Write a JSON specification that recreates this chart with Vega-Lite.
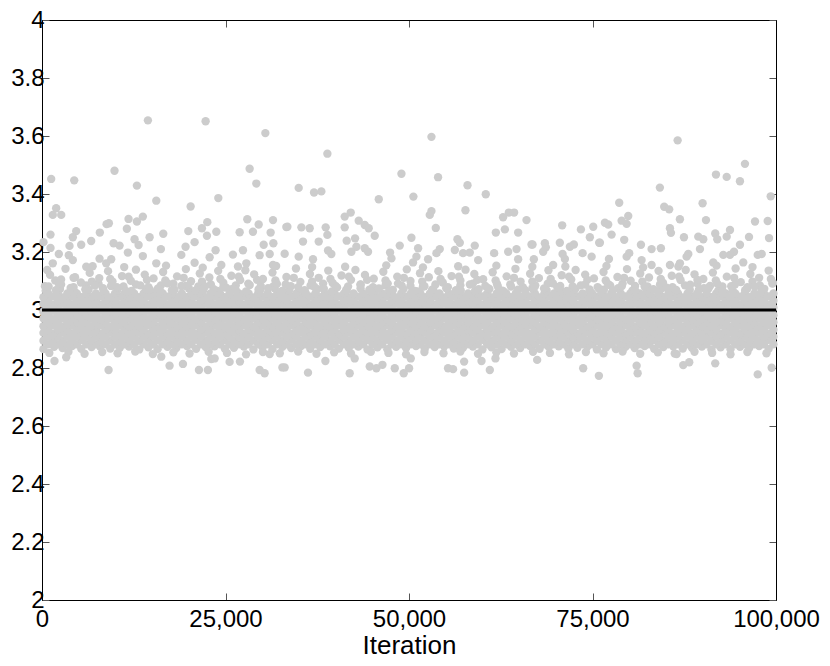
{"$schema":"https://vega.github.io/schema/vega-lite/v6.json","autosize":{"type":"none"},"padding":{"left":42,"top":20,"right":54,"bottom":66},"width":734,"height":580,"background":"white",
"config":{"view":{"stroke":"black","strokeWidth":1},"axis":{"labelFont":"Liberation Sans","titleFont":"Liberation Sans","labelFontSize":24,"titleFontSize":26,"labelColor":"black","titleColor":"black","domainColor":"black","tickColor":"#555555","grid":false,"titleFontWeight":"normal","labelFontWeight":"normal"}},
"layer":[
{"data":{"values":[
{"x":200,"y":2.865},{"x":1650,"y":2.873},{"x":2800,"y":2.869},{"x":4100,"y":2.876},{"x":5350,"y":2.866},{"x":6750,"y":2.872},{"x":7900,"y":2.875},{"x":9300,"y":2.867},{"x":10600,"y":2.87},{"x":11850,"y":2.874},{"x":13250,"y":2.864},{"x":14500,"y":2.871},{"x":15750,"y":2.865},{"x":17100,"y":2.873},{"x":18300,"y":2.869},{"x":19750,"y":2.876},{"x":21000,"y":2.866},{"x":22300,"y":2.872},{"x":23500,"y":2.875},{"x":24900,"y":2.867},{"x":26150,"y":2.87},{"x":27500,"y":2.874},{"x":28800,"y":2.864},{"x":30050,"y":2.871},{"x":31400,"y":2.865},{"x":32750,"y":2.873},{"x":33950,"y":2.869},{"x":35300,"y":2.876},{"x":36550,"y":2.866},{"x":37900,"y":2.872},{"x":39250,"y":2.875},{"x":40450,"y":2.867},{"x":41800,"y":2.87},{"x":43100,"y":2.874},{"x":44350,"y":2.864},{"x":45700,"y":2.871},{"x":47050,"y":2.865},{"x":48250,"y":2.873},{"x":49600,"y":2.869},{"x":50950,"y":2.876},{"x":52150,"y":2.866},{"x":53500,"y":2.872},{"x":54800,"y":2.875},{"x":56100,"y":2.867},{"x":57350,"y":2.87},{"x":58700,"y":2.874},{"x":60000,"y":2.864},{"x":61250,"y":2.871},{"x":62600,"y":2.865},{"x":63900,"y":2.873},{"x":65150,"y":2.869},{"x":66500,"y":2.876},{"x":67800,"y":2.866},{"x":69050,"y":2.872},{"x":70400,"y":2.875},{"x":71700,"y":2.867},{"x":72950,"y":2.87},{"x":74300,"y":2.874},{"x":75600,"y":2.864},{"x":76850,"y":2.871},{"x":78200,"y":2.865},{"x":79500,"y":2.873},{"x":80750,"y":2.869},{"x":82100,"y":2.876},{"x":83400,"y":2.866},{"x":84650,"y":2.872},{"x":86000,"y":2.875},{"x":87300,"y":2.867},{"x":88550,"y":2.87},{"x":89900,"y":2.874},{"x":91200,"y":2.864},{"x":92450,"y":2.871},{"x":93800,"y":2.865},{"x":95100,"y":2.873},{"x":96350,"y":2.869},{"x":97700,"y":2.876},{"x":99000,"y":2.866},
{"x":850,"y":2.882},{"x":2150,"y":2.882},{"x":3450,"y":2.882},{"x":4750,"y":2.882},{"x":6050,"y":2.882},{"x":7350,"y":2.882},{"x":8650,"y":2.882},{"x":9950,"y":2.882},{"x":11250,"y":2.882},{"x":12550,"y":2.882},{"x":13850,"y":2.882},{"x":15150,"y":2.882},{"x":16450,"y":2.882},{"x":17750,"y":2.882},{"x":19050,"y":2.882},{"x":20350,"y":2.882},{"x":21650,"y":2.882},{"x":22950,"y":2.882},{"x":24250,"y":2.882},{"x":25550,"y":2.882},{"x":26850,"y":2.882},{"x":28150,"y":2.882},{"x":29450,"y":2.882},{"x":30750,"y":2.882},{"x":32050,"y":2.882},{"x":33350,"y":2.882},{"x":34650,"y":2.882},{"x":35950,"y":2.882},{"x":37250,"y":2.882},{"x":38550,"y":2.882},{"x":39850,"y":2.882},{"x":41150,"y":2.882},{"x":42450,"y":2.882},{"x":43750,"y":2.882},{"x":45050,"y":2.882},{"x":46350,"y":2.882},{"x":47650,"y":2.882},{"x":48950,"y":2.882},{"x":50250,"y":2.882},{"x":51550,"y":2.882},{"x":52850,"y":2.882},{"x":54150,"y":2.882},{"x":55450,"y":2.882},{"x":56750,"y":2.882},{"x":58050,"y":2.882},{"x":59350,"y":2.882},{"x":60650,"y":2.882},{"x":61950,"y":2.882},{"x":63250,"y":2.882},{"x":64550,"y":2.882},{"x":65850,"y":2.882},{"x":67150,"y":2.882},{"x":68450,"y":2.882},{"x":69750,"y":2.882},{"x":71050,"y":2.882},{"x":72350,"y":2.882},{"x":73650,"y":2.882},{"x":74950,"y":2.882},{"x":76250,"y":2.882},{"x":77550,"y":2.882},{"x":78850,"y":2.882},{"x":80150,"y":2.882},{"x":81450,"y":2.882},{"x":82750,"y":2.882},{"x":84050,"y":2.882},{"x":85350,"y":2.882},{"x":86650,"y":2.882},{"x":87950,"y":2.882},{"x":89250,"y":2.882},{"x":90550,"y":2.882},{"x":91850,"y":2.882},{"x":93150,"y":2.882},{"x":94450,"y":2.882},{"x":95750,"y":2.882},{"x":97050,"y":2.882},{"x":98350,"y":2.882},{"x":99650,"y":2.882},
{"x":200,"y":2.894},{"x":1500,"y":2.897},{"x":2800,"y":2.895},{"x":4100,"y":2.893},{"x":5400,"y":2.896},{"x":6700,"y":2.894},{"x":8000,"y":2.897},{"x":9300,"y":2.895},{"x":10600,"y":2.893},{"x":11900,"y":2.896},{"x":13200,"y":2.894},{"x":14500,"y":2.897},{"x":15800,"y":2.895},{"x":17100,"y":2.893},{"x":18400,"y":2.896},{"x":19700,"y":2.894},{"x":21000,"y":2.897},{"x":22300,"y":2.895},{"x":23600,"y":2.893},{"x":24900,"y":2.896},{"x":26200,"y":2.894},{"x":27500,"y":2.897},{"x":28800,"y":2.895},{"x":30100,"y":2.893},{"x":31400,"y":2.896},{"x":32700,"y":2.894},{"x":34000,"y":2.897},{"x":35300,"y":2.895},{"x":36600,"y":2.893},{"x":37900,"y":2.896},{"x":39200,"y":2.894},{"x":40500,"y":2.897},{"x":41800,"y":2.895},{"x":43100,"y":2.893},{"x":44400,"y":2.896},{"x":45700,"y":2.894},{"x":47000,"y":2.897},{"x":48300,"y":2.895},{"x":49600,"y":2.893},{"x":50900,"y":2.896},{"x":52200,"y":2.894},{"x":53500,"y":2.897},{"x":54800,"y":2.895},{"x":56100,"y":2.893},{"x":57400,"y":2.896},{"x":58700,"y":2.894},{"x":60000,"y":2.897},{"x":61300,"y":2.895},{"x":62600,"y":2.893},{"x":63900,"y":2.896},{"x":65200,"y":2.894},{"x":66500,"y":2.897},{"x":67800,"y":2.895},{"x":69100,"y":2.893},{"x":70400,"y":2.896},{"x":71700,"y":2.894},{"x":73000,"y":2.897},{"x":74300,"y":2.895},{"x":75600,"y":2.893},{"x":76900,"y":2.896},{"x":78200,"y":2.894},{"x":79500,"y":2.897},{"x":80800,"y":2.895},{"x":82100,"y":2.893},{"x":83400,"y":2.896},{"x":84700,"y":2.894},{"x":86000,"y":2.897},{"x":87300,"y":2.895},{"x":88600,"y":2.893},{"x":89900,"y":2.896},{"x":91200,"y":2.894},{"x":92500,"y":2.897},{"x":93800,"y":2.895},{"x":95100,"y":2.893},{"x":96400,"y":2.896},{"x":97700,"y":2.894},{"x":99000,"y":2.897},
{"x":850,"y":2.908},{"x":2150,"y":2.908},{"x":3450,"y":2.908},{"x":4750,"y":2.908},{"x":6050,"y":2.908},{"x":7350,"y":2.908},{"x":8650,"y":2.908},{"x":9950,"y":2.908},{"x":11250,"y":2.908},{"x":12550,"y":2.908},{"x":13850,"y":2.908},{"x":15150,"y":2.908},{"x":16450,"y":2.908},{"x":17750,"y":2.908},{"x":19050,"y":2.908},{"x":20350,"y":2.908},{"x":21650,"y":2.908},{"x":22950,"y":2.908},{"x":24250,"y":2.908},{"x":25550,"y":2.908},{"x":26850,"y":2.908},{"x":28150,"y":2.908},{"x":29450,"y":2.908},{"x":30750,"y":2.908},{"x":32050,"y":2.908},{"x":33350,"y":2.908},{"x":34650,"y":2.908},{"x":35950,"y":2.908},{"x":37250,"y":2.908},{"x":38550,"y":2.908},{"x":39850,"y":2.908},{"x":41150,"y":2.908},{"x":42450,"y":2.908},{"x":43750,"y":2.908},{"x":45050,"y":2.908},{"x":46350,"y":2.908},{"x":47650,"y":2.908},{"x":48950,"y":2.908},{"x":50250,"y":2.908},{"x":51550,"y":2.908},{"x":52850,"y":2.908},{"x":54150,"y":2.908},{"x":55450,"y":2.908},{"x":56750,"y":2.908},{"x":58050,"y":2.908},{"x":59350,"y":2.908},{"x":60650,"y":2.908},{"x":61950,"y":2.908},{"x":63250,"y":2.908},{"x":64550,"y":2.908},{"x":65850,"y":2.908},{"x":67150,"y":2.908},{"x":68450,"y":2.908},{"x":69750,"y":2.908},{"x":71050,"y":2.908},{"x":72350,"y":2.908},{"x":73650,"y":2.908},{"x":74950,"y":2.908},{"x":76250,"y":2.908},{"x":77550,"y":2.908},{"x":78850,"y":2.908},{"x":80150,"y":2.908},{"x":81450,"y":2.908},{"x":82750,"y":2.908},{"x":84050,"y":2.908},{"x":85350,"y":2.908},{"x":86650,"y":2.908},{"x":87950,"y":2.908},{"x":89250,"y":2.908},{"x":90550,"y":2.908},{"x":91850,"y":2.908},{"x":93150,"y":2.908},{"x":94450,"y":2.908},{"x":95750,"y":2.908},{"x":97050,"y":2.908},{"x":98350,"y":2.908},{"x":99650,"y":2.908},
{"x":200,"y":2.921},{"x":1500,"y":2.918},{"x":2800,"y":2.922},{"x":4100,"y":2.919},{"x":5400,"y":2.921},{"x":6700,"y":2.921},{"x":8000,"y":2.918},{"x":9300,"y":2.922},{"x":10600,"y":2.919},{"x":11900,"y":2.921},{"x":13200,"y":2.921},{"x":14500,"y":2.918},{"x":15800,"y":2.922},{"x":17100,"y":2.919},{"x":18400,"y":2.921},{"x":19700,"y":2.921},{"x":21000,"y":2.918},{"x":22300,"y":2.922},{"x":23600,"y":2.919},{"x":24900,"y":2.921},{"x":26200,"y":2.921},{"x":27500,"y":2.918},{"x":28800,"y":2.922},{"x":30100,"y":2.919},{"x":31400,"y":2.921},{"x":32700,"y":2.921},{"x":34000,"y":2.918},{"x":35300,"y":2.922},{"x":36600,"y":2.919},{"x":37900,"y":2.921},{"x":39200,"y":2.921},{"x":40500,"y":2.918},{"x":41800,"y":2.922},{"x":43100,"y":2.919},{"x":44400,"y":2.921},{"x":45700,"y":2.921},{"x":47000,"y":2.918},{"x":48300,"y":2.922},{"x":49600,"y":2.919},{"x":50900,"y":2.921},{"x":52200,"y":2.921},{"x":53500,"y":2.918},{"x":54800,"y":2.922},{"x":56100,"y":2.919},{"x":57400,"y":2.921},{"x":58700,"y":2.921},{"x":60000,"y":2.918},{"x":61300,"y":2.922},{"x":62600,"y":2.919},{"x":63900,"y":2.921},{"x":65200,"y":2.921},{"x":66500,"y":2.918},{"x":67800,"y":2.922},{"x":69100,"y":2.919},{"x":70400,"y":2.921},{"x":71700,"y":2.921},{"x":73000,"y":2.918},{"x":74300,"y":2.922},{"x":75600,"y":2.919},{"x":76900,"y":2.921},{"x":78200,"y":2.921},{"x":79500,"y":2.918},{"x":80800,"y":2.922},{"x":82100,"y":2.919},{"x":83400,"y":2.921},{"x":84700,"y":2.921},{"x":86000,"y":2.918},{"x":87300,"y":2.922},{"x":88600,"y":2.919},{"x":89900,"y":2.921},{"x":91200,"y":2.921},{"x":92500,"y":2.918},{"x":93800,"y":2.922},{"x":95100,"y":2.919},{"x":96400,"y":2.921},{"x":97700,"y":2.921},{"x":99000,"y":2.918},
{"x":850,"y":2.932},{"x":2150,"y":2.932},{"x":3450,"y":2.932},{"x":4750,"y":2.932},{"x":6050,"y":2.932},{"x":7350,"y":2.932},{"x":8650,"y":2.932},{"x":9950,"y":2.932},{"x":11250,"y":2.932},{"x":12550,"y":2.932},{"x":13850,"y":2.932},{"x":15150,"y":2.932},{"x":16450,"y":2.932},{"x":17750,"y":2.932},{"x":19050,"y":2.932},{"x":20350,"y":2.932},{"x":21650,"y":2.932},{"x":22950,"y":2.932},{"x":24250,"y":2.932},{"x":25550,"y":2.932},{"x":26850,"y":2.932},{"x":28150,"y":2.932},{"x":29450,"y":2.932},{"x":30750,"y":2.932},{"x":32050,"y":2.932},{"x":33350,"y":2.932},{"x":34650,"y":2.932},{"x":35950,"y":2.932},{"x":37250,"y":2.932},{"x":38550,"y":2.932},{"x":39850,"y":2.932},{"x":41150,"y":2.932},{"x":42450,"y":2.932},{"x":43750,"y":2.932},{"x":45050,"y":2.932},{"x":46350,"y":2.932},{"x":47650,"y":2.932},{"x":48950,"y":2.932},{"x":50250,"y":2.932},{"x":51550,"y":2.932},{"x":52850,"y":2.932},{"x":54150,"y":2.932},{"x":55450,"y":2.932},{"x":56750,"y":2.932},{"x":58050,"y":2.932},{"x":59350,"y":2.932},{"x":60650,"y":2.932},{"x":61950,"y":2.932},{"x":63250,"y":2.932},{"x":64550,"y":2.932},{"x":65850,"y":2.932},{"x":67150,"y":2.932},{"x":68450,"y":2.932},{"x":69750,"y":2.932},{"x":71050,"y":2.932},{"x":72350,"y":2.932},{"x":73650,"y":2.932},{"x":74950,"y":2.932},{"x":76250,"y":2.932},{"x":77550,"y":2.932},{"x":78850,"y":2.932},{"x":80150,"y":2.932},{"x":81450,"y":2.932},{"x":82750,"y":2.932},{"x":84050,"y":2.932},{"x":85350,"y":2.932},{"x":86650,"y":2.932},{"x":87950,"y":2.932},{"x":89250,"y":2.932},{"x":90550,"y":2.932},{"x":91850,"y":2.932},{"x":93150,"y":2.932},{"x":94450,"y":2.932},{"x":95750,"y":2.932},{"x":97050,"y":2.932},{"x":98350,"y":2.932},{"x":99650,"y":2.932},
{"x":200,"y":2.944},{"x":1500,"y":2.947},{"x":2800,"y":2.943},{"x":4100,"y":2.946},{"x":5400,"y":2.944},{"x":6700,"y":2.944},{"x":8000,"y":2.947},{"x":9300,"y":2.943},{"x":10600,"y":2.946},{"x":11900,"y":2.944},{"x":13200,"y":2.944},{"x":14500,"y":2.947},{"x":15800,"y":2.943},{"x":17100,"y":2.946},{"x":18400,"y":2.944},{"x":19700,"y":2.944},{"x":21000,"y":2.947},{"x":22300,"y":2.943},{"x":23600,"y":2.946},{"x":24900,"y":2.944},{"x":26200,"y":2.944},{"x":27500,"y":2.947},{"x":28800,"y":2.943},{"x":30100,"y":2.946},{"x":31400,"y":2.944},{"x":32700,"y":2.944},{"x":34000,"y":2.947},{"x":35300,"y":2.943},{"x":36600,"y":2.946},{"x":37900,"y":2.944},{"x":39200,"y":2.944},{"x":40500,"y":2.947},{"x":41800,"y":2.943},{"x":43100,"y":2.946},{"x":44400,"y":2.944},{"x":45700,"y":2.944},{"x":47000,"y":2.947},{"x":48300,"y":2.943},{"x":49600,"y":2.946},{"x":50900,"y":2.944},{"x":52200,"y":2.944},{"x":53500,"y":2.947},{"x":54800,"y":2.943},{"x":56100,"y":2.946},{"x":57400,"y":2.944},{"x":58700,"y":2.944},{"x":60000,"y":2.947},{"x":61300,"y":2.943},{"x":62600,"y":2.946},{"x":63900,"y":2.944},{"x":65200,"y":2.944},{"x":66500,"y":2.947},{"x":67800,"y":2.943},{"x":69100,"y":2.946},{"x":70400,"y":2.944},{"x":71700,"y":2.944},{"x":73000,"y":2.947},{"x":74300,"y":2.943},{"x":75600,"y":2.946},{"x":76900,"y":2.944},{"x":78200,"y":2.944},{"x":79500,"y":2.947},{"x":80800,"y":2.943},{"x":82100,"y":2.946},{"x":83400,"y":2.944},{"x":84700,"y":2.944},{"x":86000,"y":2.947},{"x":87300,"y":2.943},{"x":88600,"y":2.946},{"x":89900,"y":2.944},{"x":91200,"y":2.944},{"x":92500,"y":2.947},{"x":93800,"y":2.943},{"x":95100,"y":2.946},{"x":96400,"y":2.944},{"x":97700,"y":2.944},{"x":99000,"y":2.947},
{"x":850,"y":2.958},{"x":2150,"y":2.958},{"x":3450,"y":2.958},{"x":4750,"y":2.958},{"x":6050,"y":2.958},{"x":7350,"y":2.958},{"x":8650,"y":2.958},{"x":9950,"y":2.958},{"x":11250,"y":2.958},{"x":12550,"y":2.958},{"x":13850,"y":2.958},{"x":15150,"y":2.958},{"x":16450,"y":2.958},{"x":17750,"y":2.958},{"x":19050,"y":2.958},{"x":20350,"y":2.958},{"x":21650,"y":2.958},{"x":22950,"y":2.958},{"x":24250,"y":2.958},{"x":25550,"y":2.958},{"x":26850,"y":2.958},{"x":28150,"y":2.958},{"x":29450,"y":2.958},{"x":30750,"y":2.958},{"x":32050,"y":2.958},{"x":33350,"y":2.958},{"x":34650,"y":2.958},{"x":35950,"y":2.958},{"x":37250,"y":2.958},{"x":38550,"y":2.958},{"x":39850,"y":2.958},{"x":41150,"y":2.958},{"x":42450,"y":2.958},{"x":43750,"y":2.958},{"x":45050,"y":2.958},{"x":46350,"y":2.958},{"x":47650,"y":2.958},{"x":48950,"y":2.958},{"x":50250,"y":2.958},{"x":51550,"y":2.958},{"x":52850,"y":2.958},{"x":54150,"y":2.958},{"x":55450,"y":2.958},{"x":56750,"y":2.958},{"x":58050,"y":2.958},{"x":59350,"y":2.958},{"x":60650,"y":2.958},{"x":61950,"y":2.958},{"x":63250,"y":2.958},{"x":64550,"y":2.958},{"x":65850,"y":2.958},{"x":67150,"y":2.958},{"x":68450,"y":2.958},{"x":69750,"y":2.958},{"x":71050,"y":2.958},{"x":72350,"y":2.958},{"x":73650,"y":2.958},{"x":74950,"y":2.958},{"x":76250,"y":2.958},{"x":77550,"y":2.958},{"x":78850,"y":2.958},{"x":80150,"y":2.958},{"x":81450,"y":2.958},{"x":82750,"y":2.958},{"x":84050,"y":2.958},{"x":85350,"y":2.958},{"x":86650,"y":2.958},{"x":87950,"y":2.958},{"x":89250,"y":2.958},{"x":90550,"y":2.958},{"x":91850,"y":2.958},{"x":93150,"y":2.958},{"x":94450,"y":2.958},{"x":95750,"y":2.958},{"x":97050,"y":2.958},{"x":98350,"y":2.958},{"x":99650,"y":2.958},
{"x":200,"y":2.971},{"x":1500,"y":2.968},{"x":2800,"y":2.972},{"x":4100,"y":2.969},{"x":5400,"y":2.971},{"x":6700,"y":2.971},{"x":8000,"y":2.968},{"x":9300,"y":2.972},{"x":10600,"y":2.969},{"x":11900,"y":2.971},{"x":13200,"y":2.971},{"x":14500,"y":2.968},{"x":15800,"y":2.972},{"x":17100,"y":2.969},{"x":18400,"y":2.971},{"x":19700,"y":2.971},{"x":21000,"y":2.968},{"x":22300,"y":2.972},{"x":23600,"y":2.969},{"x":24900,"y":2.971},{"x":26200,"y":2.971},{"x":27500,"y":2.968},{"x":28800,"y":2.972},{"x":30100,"y":2.969},{"x":31400,"y":2.971},{"x":32700,"y":2.971},{"x":34000,"y":2.968},{"x":35300,"y":2.972},{"x":36600,"y":2.969},{"x":37900,"y":2.971},{"x":39200,"y":2.971},{"x":40500,"y":2.968},{"x":41800,"y":2.972},{"x":43100,"y":2.969},{"x":44400,"y":2.971},{"x":45700,"y":2.971},{"x":47000,"y":2.968},{"x":48300,"y":2.972},{"x":49600,"y":2.969},{"x":50900,"y":2.971},{"x":52200,"y":2.971},{"x":53500,"y":2.968},{"x":54800,"y":2.972},{"x":56100,"y":2.969},{"x":57400,"y":2.971},{"x":58700,"y":2.971},{"x":60000,"y":2.968},{"x":61300,"y":2.972},{"x":62600,"y":2.969},{"x":63900,"y":2.971},{"x":65200,"y":2.971},{"x":66500,"y":2.968},{"x":67800,"y":2.972},{"x":69100,"y":2.969},{"x":70400,"y":2.971},{"x":71700,"y":2.971},{"x":73000,"y":2.968},{"x":74300,"y":2.972},{"x":75600,"y":2.969},{"x":76900,"y":2.971},{"x":78200,"y":2.971},{"x":79500,"y":2.968},{"x":80800,"y":2.972},{"x":82100,"y":2.969},{"x":83400,"y":2.971},{"x":84700,"y":2.971},{"x":86000,"y":2.968},{"x":87300,"y":2.972},{"x":88600,"y":2.969},{"x":89900,"y":2.971},{"x":91200,"y":2.971},{"x":92500,"y":2.968},{"x":93800,"y":2.972},{"x":95100,"y":2.969},{"x":96400,"y":2.971},{"x":97700,"y":2.971},{"x":99000,"y":2.968},
{"x":850,"y":2.982},{"x":2150,"y":2.982},{"x":3450,"y":2.982},{"x":4750,"y":2.982},{"x":6050,"y":2.982},{"x":7350,"y":2.982},{"x":8650,"y":2.982},{"x":9950,"y":2.982},{"x":11250,"y":2.982},{"x":12550,"y":2.982},{"x":13850,"y":2.982},{"x":15150,"y":2.982},{"x":16450,"y":2.982},{"x":17750,"y":2.982},{"x":19050,"y":2.982},{"x":20350,"y":2.982},{"x":21650,"y":2.982},{"x":22950,"y":2.982},{"x":24250,"y":2.982},{"x":25550,"y":2.982},{"x":26850,"y":2.982},{"x":28150,"y":2.982},{"x":29450,"y":2.982},{"x":30750,"y":2.982},{"x":32050,"y":2.982},{"x":33350,"y":2.982},{"x":34650,"y":2.982},{"x":35950,"y":2.982},{"x":37250,"y":2.982},{"x":38550,"y":2.982},{"x":39850,"y":2.982},{"x":41150,"y":2.982},{"x":42450,"y":2.982},{"x":43750,"y":2.982},{"x":45050,"y":2.982},{"x":46350,"y":2.982},{"x":47650,"y":2.982},{"x":48950,"y":2.982},{"x":50250,"y":2.982},{"x":51550,"y":2.982},{"x":52850,"y":2.982},{"x":54150,"y":2.982},{"x":55450,"y":2.982},{"x":56750,"y":2.982},{"x":58050,"y":2.982},{"x":59350,"y":2.982},{"x":60650,"y":2.982},{"x":61950,"y":2.982},{"x":63250,"y":2.982},{"x":64550,"y":2.982},{"x":65850,"y":2.982},{"x":67150,"y":2.982},{"x":68450,"y":2.982},{"x":69750,"y":2.982},{"x":71050,"y":2.982},{"x":72350,"y":2.982},{"x":73650,"y":2.982},{"x":74950,"y":2.982},{"x":76250,"y":2.982},{"x":77550,"y":2.982},{"x":78850,"y":2.982},{"x":80150,"y":2.982},{"x":81450,"y":2.982},{"x":82750,"y":2.982},{"x":84050,"y":2.982},{"x":85350,"y":2.982},{"x":86650,"y":2.982},{"x":87950,"y":2.982},{"x":89250,"y":2.982},{"x":90550,"y":2.982},{"x":91850,"y":2.982},{"x":93150,"y":2.982},{"x":94450,"y":2.982},{"x":95750,"y":2.982},{"x":97050,"y":2.982},{"x":98350,"y":2.982},{"x":99650,"y":2.982},
{"x":200,"y":2.994},{"x":1500,"y":2.997},{"x":2800,"y":2.995},{"x":4100,"y":2.993},{"x":5400,"y":2.996},{"x":6700,"y":2.994},{"x":8000,"y":2.997},{"x":9300,"y":2.995},{"x":10600,"y":2.993},{"x":11900,"y":2.996},{"x":13200,"y":2.994},{"x":14500,"y":2.997},{"x":15800,"y":2.995},{"x":17100,"y":2.993},{"x":18400,"y":2.996},{"x":19700,"y":2.994},{"x":21000,"y":2.997},{"x":22300,"y":2.995},{"x":23600,"y":2.993},{"x":24900,"y":2.996},{"x":26200,"y":2.994},{"x":27500,"y":2.997},{"x":28800,"y":2.995},{"x":30100,"y":2.993},{"x":31400,"y":2.996},{"x":32700,"y":2.994},{"x":34000,"y":2.997},{"x":35300,"y":2.995},{"x":36600,"y":2.993},{"x":37900,"y":2.996},{"x":39200,"y":2.994},{"x":40500,"y":2.997},{"x":41800,"y":2.995},{"x":43100,"y":2.993},{"x":44400,"y":2.996},{"x":45700,"y":2.994},{"x":47000,"y":2.997},{"x":48300,"y":2.995},{"x":49600,"y":2.993},{"x":50900,"y":2.996},{"x":52200,"y":2.994},{"x":53500,"y":2.997},{"x":54800,"y":2.995},{"x":56100,"y":2.993},{"x":57400,"y":2.996},{"x":58700,"y":2.994},{"x":60000,"y":2.997},{"x":61300,"y":2.995},{"x":62600,"y":2.993},{"x":63900,"y":2.996},{"x":65200,"y":2.994},{"x":66500,"y":2.997},{"x":67800,"y":2.995},{"x":69100,"y":2.993},{"x":70400,"y":2.996},{"x":71700,"y":2.994},{"x":73000,"y":2.997},{"x":74300,"y":2.995},{"x":75600,"y":2.993},{"x":76900,"y":2.996},{"x":78200,"y":2.994},{"x":79500,"y":2.997},{"x":80800,"y":2.995},{"x":82100,"y":2.993},{"x":83400,"y":2.996},{"x":84700,"y":2.994},{"x":86000,"y":2.997},{"x":87300,"y":2.995},{"x":88600,"y":2.993},{"x":89900,"y":2.996},{"x":91200,"y":2.994},{"x":92500,"y":2.997},{"x":93800,"y":2.995},{"x":95100,"y":2.993},{"x":96400,"y":2.996},{"x":97700,"y":2.994},{"x":99000,"y":2.997},
{"x":850,"y":3.008},{"x":2150,"y":3.008},{"x":3450,"y":3.008},{"x":4750,"y":3.008},{"x":6050,"y":3.008},{"x":7350,"y":3.008},{"x":8650,"y":3.008},{"x":9950,"y":3.008},{"x":11250,"y":3.008},{"x":12550,"y":3.008},{"x":13850,"y":3.008},{"x":15150,"y":3.008},{"x":16450,"y":3.008},{"x":17750,"y":3.008},{"x":19050,"y":3.008},{"x":20350,"y":3.008},{"x":21650,"y":3.008},{"x":22950,"y":3.008},{"x":24250,"y":3.008},{"x":25550,"y":3.008},{"x":26850,"y":3.008},{"x":28150,"y":3.008},{"x":29450,"y":3.008},{"x":30750,"y":3.008},{"x":32050,"y":3.008},{"x":33350,"y":3.008},{"x":34650,"y":3.008},{"x":35950,"y":3.008},{"x":37250,"y":3.008},{"x":38550,"y":3.008},{"x":39850,"y":3.008},{"x":41150,"y":3.008},{"x":42450,"y":3.008},{"x":43750,"y":3.008},{"x":45050,"y":3.008},{"x":46350,"y":3.008},{"x":47650,"y":3.008},{"x":48950,"y":3.008},{"x":50250,"y":3.008},{"x":51550,"y":3.008},{"x":52850,"y":3.008},{"x":54150,"y":3.008},{"x":55450,"y":3.008},{"x":56750,"y":3.008},{"x":58050,"y":3.008},{"x":59350,"y":3.008},{"x":60650,"y":3.008},{"x":61950,"y":3.008},{"x":63250,"y":3.008},{"x":64550,"y":3.008},{"x":65850,"y":3.008},{"x":67150,"y":3.008},{"x":68450,"y":3.008},{"x":69750,"y":3.008},{"x":71050,"y":3.008},{"x":72350,"y":3.008},{"x":73650,"y":3.008},{"x":74950,"y":3.008},{"x":76250,"y":3.008},{"x":77550,"y":3.008},{"x":78850,"y":3.008},{"x":80150,"y":3.008},{"x":81450,"y":3.008},{"x":82750,"y":3.008},{"x":84050,"y":3.008},{"x":85350,"y":3.008},{"x":86650,"y":3.008},{"x":87950,"y":3.008},{"x":89250,"y":3.008},{"x":90550,"y":3.008},{"x":91850,"y":3.008},{"x":93150,"y":3.008},{"x":94450,"y":3.008},{"x":95750,"y":3.008},{"x":97050,"y":3.008},{"x":98350,"y":3.008},{"x":99650,"y":3.008},
{"x":200,"y":3.021},{"x":1500,"y":3.018},{"x":2800,"y":3.022},{"x":4100,"y":3.019},{"x":5400,"y":3.021},{"x":6700,"y":3.021},{"x":8000,"y":3.018},{"x":9300,"y":3.022},{"x":10600,"y":3.019},{"x":11900,"y":3.021},{"x":13200,"y":3.021},{"x":14500,"y":3.018},{"x":15800,"y":3.022},{"x":17100,"y":3.019},{"x":18400,"y":3.021},{"x":19700,"y":3.021},{"x":21000,"y":3.018},{"x":22300,"y":3.022},{"x":23600,"y":3.019},{"x":24900,"y":3.021},{"x":26200,"y":3.021},{"x":27500,"y":3.018},{"x":28800,"y":3.022},{"x":30100,"y":3.019},{"x":31400,"y":3.021},{"x":32700,"y":3.021},{"x":34000,"y":3.018},{"x":35300,"y":3.022},{"x":36600,"y":3.019},{"x":37900,"y":3.021},{"x":39200,"y":3.021},{"x":40500,"y":3.018},{"x":41800,"y":3.022},{"x":43100,"y":3.019},{"x":44400,"y":3.021},{"x":45700,"y":3.021},{"x":47000,"y":3.018},{"x":48300,"y":3.022},{"x":49600,"y":3.019},{"x":50900,"y":3.021},{"x":52200,"y":3.021},{"x":53500,"y":3.018},{"x":54800,"y":3.022},{"x":56100,"y":3.019},{"x":57400,"y":3.021},{"x":58700,"y":3.021},{"x":60000,"y":3.018},{"x":61300,"y":3.022},{"x":62600,"y":3.019},{"x":63900,"y":3.021},{"x":65200,"y":3.021},{"x":66500,"y":3.018},{"x":67800,"y":3.022},{"x":69100,"y":3.019},{"x":70400,"y":3.021},{"x":71700,"y":3.021},{"x":73000,"y":3.018},{"x":74300,"y":3.022},{"x":75600,"y":3.019},{"x":76900,"y":3.021},{"x":78200,"y":3.021},{"x":79500,"y":3.018},{"x":80800,"y":3.022},{"x":82100,"y":3.019},{"x":83400,"y":3.021},{"x":84700,"y":3.021},{"x":86000,"y":3.018},{"x":87300,"y":3.022},{"x":88600,"y":3.019},{"x":89900,"y":3.021},{"x":91200,"y":3.021},{"x":92500,"y":3.018},{"x":93800,"y":3.022},{"x":95100,"y":3.019},{"x":96400,"y":3.021},{"x":97700,"y":3.021},{"x":99000,"y":3.018},
{"x":850,"y":3.032},{"x":2150,"y":3.032},{"x":3450,"y":3.032},{"x":4750,"y":3.032},{"x":6050,"y":3.032},{"x":7350,"y":3.032},{"x":8650,"y":3.032},{"x":9950,"y":3.032},{"x":11250,"y":3.032},{"x":12550,"y":3.032},{"x":13850,"y":3.032},{"x":15150,"y":3.032},{"x":16450,"y":3.032},{"x":17750,"y":3.032},{"x":19050,"y":3.032},{"x":20350,"y":3.032},{"x":21650,"y":3.032},{"x":22950,"y":3.032},{"x":24250,"y":3.032},{"x":25550,"y":3.032},{"x":26850,"y":3.032},{"x":28150,"y":3.032},{"x":29450,"y":3.032},{"x":30750,"y":3.032},{"x":32050,"y":3.032},{"x":33350,"y":3.032},{"x":34650,"y":3.032},{"x":35950,"y":3.032},{"x":37250,"y":3.032},{"x":38550,"y":3.032},{"x":39850,"y":3.032},{"x":41150,"y":3.032},{"x":42450,"y":3.032},{"x":43750,"y":3.032},{"x":45050,"y":3.032},{"x":46350,"y":3.032},{"x":47650,"y":3.032},{"x":48950,"y":3.032},{"x":50250,"y":3.032},{"x":51550,"y":3.032},{"x":52850,"y":3.032},{"x":54150,"y":3.032},{"x":55450,"y":3.032},{"x":56750,"y":3.032},{"x":58050,"y":3.032},{"x":59350,"y":3.032},{"x":60650,"y":3.032},{"x":61950,"y":3.032},{"x":63250,"y":3.032},{"x":64550,"y":3.032},{"x":65850,"y":3.032},{"x":67150,"y":3.032},{"x":68450,"y":3.032},{"x":69750,"y":3.032},{"x":71050,"y":3.032},{"x":72350,"y":3.032},{"x":73650,"y":3.032},{"x":74950,"y":3.032},{"x":76250,"y":3.032},{"x":77550,"y":3.032},{"x":78850,"y":3.032},{"x":80150,"y":3.032},{"x":81450,"y":3.032},{"x":82750,"y":3.032},{"x":84050,"y":3.032},{"x":85350,"y":3.032},{"x":86650,"y":3.032},{"x":87950,"y":3.032},{"x":89250,"y":3.032},{"x":90550,"y":3.032},{"x":91850,"y":3.032},{"x":93150,"y":3.032},{"x":94450,"y":3.032},{"x":95750,"y":3.032},{"x":97050,"y":3.032},{"x":98350,"y":3.032},{"x":99650,"y":3.032},
{"x":200,"y":3.044},{"x":1500,"y":3.047},{"x":2800,"y":3.043},{"x":4100,"y":3.046},{"x":5400,"y":3.044},{"x":6700,"y":3.044},{"x":8000,"y":3.047},{"x":9300,"y":3.043},{"x":10600,"y":3.046},{"x":11900,"y":3.044},{"x":13200,"y":3.044},{"x":14500,"y":3.047},{"x":15800,"y":3.043},{"x":17100,"y":3.046},{"x":18400,"y":3.044},{"x":19700,"y":3.044},{"x":21000,"y":3.047},{"x":22300,"y":3.043},{"x":23600,"y":3.046},{"x":24900,"y":3.044},{"x":26200,"y":3.044},{"x":27500,"y":3.047},{"x":28800,"y":3.043},{"x":30100,"y":3.046},{"x":31400,"y":3.044},{"x":32700,"y":3.044},{"x":34000,"y":3.047},{"x":35300,"y":3.043},{"x":36600,"y":3.046},{"x":37900,"y":3.044},{"x":39200,"y":3.044},{"x":40500,"y":3.047},{"x":41800,"y":3.043},{"x":43100,"y":3.046},{"x":44400,"y":3.044},{"x":45700,"y":3.044},{"x":47000,"y":3.047},{"x":48300,"y":3.043},{"x":49600,"y":3.046},{"x":50900,"y":3.044},{"x":52200,"y":3.044},{"x":53500,"y":3.047},{"x":54800,"y":3.043},{"x":56100,"y":3.046},{"x":57400,"y":3.044},{"x":58700,"y":3.044},{"x":60000,"y":3.047},{"x":61300,"y":3.043},{"x":62600,"y":3.046},{"x":63900,"y":3.044},{"x":65200,"y":3.044},{"x":66500,"y":3.047},{"x":67800,"y":3.043},{"x":69100,"y":3.046},{"x":70400,"y":3.044},{"x":71700,"y":3.044},{"x":73000,"y":3.047},{"x":74300,"y":3.043},{"x":75600,"y":3.046},{"x":76900,"y":3.044},{"x":78200,"y":3.044},{"x":79500,"y":3.047},{"x":80800,"y":3.043},{"x":82100,"y":3.046},{"x":83400,"y":3.044},{"x":84700,"y":3.044},{"x":86000,"y":3.047},{"x":87300,"y":3.043},{"x":88600,"y":3.046},{"x":89900,"y":3.044},{"x":91200,"y":3.044},{"x":92500,"y":3.047},{"x":93800,"y":3.043},{"x":95100,"y":3.046},{"x":96400,"y":3.044},{"x":97700,"y":3.044},{"x":99000,"y":3.047},
{"x":850,"y":3.057},{"x":2150,"y":3.057},{"x":3450,"y":3.057},{"x":4750,"y":3.057},{"x":6050,"y":3.057},{"x":7350,"y":3.057},{"x":8650,"y":3.057},{"x":9950,"y":3.057},{"x":11250,"y":3.057},{"x":12550,"y":3.057},{"x":13850,"y":3.057},{"x":15150,"y":3.057},{"x":16450,"y":3.057},{"x":17750,"y":3.057},{"x":19050,"y":3.057},{"x":20350,"y":3.057},{"x":21650,"y":3.057},{"x":22950,"y":3.057},{"x":24250,"y":3.057},{"x":25550,"y":3.057},{"x":26850,"y":3.057},{"x":28150,"y":3.057},{"x":29450,"y":3.057},{"x":30750,"y":3.057},{"x":32050,"y":3.057},{"x":33350,"y":3.057},{"x":34650,"y":3.057},{"x":35950,"y":3.057},{"x":37250,"y":3.057},{"x":38550,"y":3.057},{"x":39850,"y":3.057},{"x":41150,"y":3.057},{"x":42450,"y":3.057},{"x":43750,"y":3.057},{"x":45050,"y":3.057},{"x":46350,"y":3.057},{"x":47650,"y":3.057},{"x":48950,"y":3.057},{"x":50250,"y":3.057},{"x":51550,"y":3.057},{"x":52850,"y":3.057},{"x":54150,"y":3.057},{"x":55450,"y":3.057},{"x":56750,"y":3.057},{"x":58050,"y":3.057},{"x":59350,"y":3.057},{"x":60650,"y":3.057},{"x":61950,"y":3.057},{"x":63250,"y":3.057},{"x":64550,"y":3.057},{"x":65850,"y":3.057},{"x":67150,"y":3.057},{"x":68450,"y":3.057},{"x":69750,"y":3.057},{"x":71050,"y":3.057},{"x":72350,"y":3.057},{"x":73650,"y":3.057},{"x":74950,"y":3.057},{"x":76250,"y":3.057},{"x":77550,"y":3.057},{"x":78850,"y":3.057},{"x":80150,"y":3.057},{"x":81450,"y":3.057},{"x":82750,"y":3.057},{"x":84050,"y":3.057},{"x":85350,"y":3.057},{"x":86650,"y":3.057},{"x":87950,"y":3.057},{"x":89250,"y":3.057},{"x":90550,"y":3.057},{"x":91850,"y":3.057},{"x":93150,"y":3.057},{"x":94450,"y":3.057},{"x":95750,"y":3.057},{"x":97050,"y":3.057},{"x":98350,"y":3.057},{"x":99650,"y":3.057},
{"x":500,"y":3.066},{"x":2450,"y":3.072},{"x":4400,"y":3.064},{"x":6350,"y":3.07},{"x":8300,"y":3.075},{"x":10250,"y":3.067},{"x":12200,"y":3.066},{"x":14150,"y":3.072},{"x":16100,"y":3.064},{"x":18050,"y":3.07},{"x":20000,"y":3.075},{"x":21950,"y":3.067},{"x":23900,"y":3.066},{"x":25850,"y":3.072},{"x":27800,"y":3.064},{"x":29750,"y":3.07},{"x":31700,"y":3.075},{"x":33650,"y":3.067},{"x":35600,"y":3.066},{"x":37550,"y":3.072},{"x":39500,"y":3.064},{"x":41450,"y":3.07},{"x":43400,"y":3.075},{"x":45350,"y":3.067},{"x":47300,"y":3.066},{"x":49250,"y":3.072},{"x":51200,"y":3.064},{"x":53150,"y":3.07},{"x":55100,"y":3.075},{"x":57050,"y":3.067},{"x":59000,"y":3.066},{"x":60950,"y":3.072},{"x":62900,"y":3.064},{"x":64850,"y":3.07},{"x":66800,"y":3.075},{"x":68750,"y":3.067},{"x":70700,"y":3.066},{"x":72650,"y":3.072},{"x":74600,"y":3.064},{"x":76550,"y":3.07},{"x":78500,"y":3.075},{"x":80450,"y":3.067},{"x":82400,"y":3.066},{"x":84350,"y":3.072},{"x":86300,"y":3.064},{"x":88250,"y":3.07},{"x":90200,"y":3.075},{"x":92150,"y":3.067},{"x":94100,"y":3.066},{"x":96050,"y":3.072},{"x":98000,"y":3.064},
{"x":900,"y":3.081},{"x":2600,"y":3.088},{"x":4300,"y":3.079},{"x":6000,"y":3.085},{"x":7700,"y":3.091},{"x":9400,"y":3.083},{"x":11100,"y":3.081},{"x":12800,"y":3.088},{"x":14500,"y":3.079},{"x":16200,"y":3.085},{"x":17900,"y":3.091},{"x":19600,"y":3.083},{"x":21300,"y":3.081},{"x":23000,"y":3.088},{"x":24700,"y":3.079},{"x":26400,"y":3.085},{"x":28100,"y":3.091},{"x":29800,"y":3.083},{"x":31500,"y":3.081},{"x":33200,"y":3.088},{"x":34900,"y":3.079},{"x":36600,"y":3.085},{"x":38300,"y":3.091},{"x":40000,"y":3.083},{"x":41700,"y":3.081},{"x":43400,"y":3.088},{"x":45100,"y":3.079},{"x":46800,"y":3.085},{"x":48500,"y":3.091},{"x":50200,"y":3.083},{"x":51900,"y":3.081},{"x":53600,"y":3.088},{"x":55300,"y":3.079},{"x":57000,"y":3.085},{"x":58700,"y":3.091},{"x":60400,"y":3.083},{"x":62100,"y":3.081},{"x":63800,"y":3.088},{"x":65500,"y":3.079},{"x":67200,"y":3.085},{"x":68900,"y":3.091},{"x":70600,"y":3.083},{"x":72300,"y":3.081},{"x":74000,"y":3.088},{"x":75700,"y":3.079},{"x":77400,"y":3.085},{"x":79100,"y":3.091},{"x":80800,"y":3.083},{"x":82500,"y":3.081},{"x":84200,"y":3.088},{"x":85900,"y":3.079},{"x":87600,"y":3.085},{"x":89300,"y":3.091},{"x":91000,"y":3.083},{"x":92700,"y":3.081},{"x":94400,"y":3.088},{"x":96100,"y":3.079},{"x":97800,"y":3.085},{"x":99500,"y":3.091},
{"x":1800,"y":3.102},{"x":4300,"y":3.111},{"x":6800,"y":3.098},{"x":9300,"y":3.107},{"x":11800,"y":3.115},{"x":14300,"y":3.104},{"x":16800,"y":3.102},{"x":19300,"y":3.111},{"x":21800,"y":3.098},{"x":24300,"y":3.107},{"x":26800,"y":3.115},{"x":29300,"y":3.104},{"x":31800,"y":3.102},{"x":34300,"y":3.111},{"x":36800,"y":3.098},{"x":39300,"y":3.107},{"x":41800,"y":3.115},{"x":44300,"y":3.104},{"x":46800,"y":3.102},{"x":49300,"y":3.111},{"x":51800,"y":3.098},{"x":54300,"y":3.107},{"x":56800,"y":3.115},{"x":59300,"y":3.104},{"x":61800,"y":3.102},{"x":64300,"y":3.111},{"x":66800,"y":3.098},{"x":69300,"y":3.107},{"x":71800,"y":3.115},{"x":74300,"y":3.104},{"x":76800,"y":3.102},{"x":79300,"y":3.111},{"x":81800,"y":3.098},{"x":84300,"y":3.107},{"x":86800,"y":3.115},{"x":89300,"y":3.104},{"x":91800,"y":3.102},{"x":94300,"y":3.111},{"x":96800,"y":3.098},{"x":99300,"y":3.107},
{"x":400,"y":3.082},{"x":1100,"y":3.121},{"x":1900,"y":3.068},{"x":2600,"y":3.105},{"x":3200,"y":3.142},{"x":3900,"y":3.076},{"x":4500,"y":3.113},{"x":700,"y":3.138},{"x":2300,"y":3.09},
{"x":5300,"y":3.095},{"x":5900,"y":3.071},{"x":6500,"y":3.128},{"x":7200,"y":3.084},{"x":7800,"y":3.11},{"x":8400,"y":3.066},{"x":9000,"y":3.134},{"x":9600,"y":3.098},{"x":6900,"y":3.151},
{"x":10200,"y":3.079},{"x":10900,"y":3.117},{"x":11500,"y":3.065},{"x":12100,"y":3.101},{"x":12800,"y":3.139},{"x":13400,"y":3.085},{"x":14000,"y":3.122},{"x":14700,"y":3.07},{"x":11200,"y":3.148},
{"x":15200,"y":3.109},{"x":15800,"y":3.074},{"x":16500,"y":3.131},{"x":17100,"y":3.092},{"x":17700,"y":3.068},{"x":18400,"y":3.116},{"x":19000,"y":3.083},{"x":19600,"y":3.141},{"x":16900,"y":3.153},
{"x":20300,"y":3.099},{"x":20900,"y":3.067},{"x":21500,"y":3.126},{"x":22200,"y":3.081},{"x":22800,"y":3.112},{"x":23400,"y":3.072},{"x":24000,"y":3.135},{"x":24700,"y":3.094},{"x":21900,"y":3.146},
{"x":25100,"y":3.077},{"x":25800,"y":3.118},{"x":26400,"y":3.069},{"x":27000,"y":3.103},{"x":27700,"y":3.137},{"x":28300,"y":3.086},{"x":28900,"y":3.123},{"x":29500,"y":3.071},{"x":26700,"y":3.15},
{"x":30100,"y":3.107},{"x":30800,"y":3.075},{"x":31400,"y":3.129},{"x":32000,"y":3.09},{"x":32700,"y":3.066},{"x":33300,"y":3.114},{"x":33900,"y":3.082},{"x":34600,"y":3.143},{"x":31900,"y":3.152},
{"x":35200,"y":3.097},{"x":35800,"y":3.068},{"x":36500,"y":3.124},{"x":37100,"y":3.08},{"x":37700,"y":3.111},{"x":38400,"y":3.073},{"x":39000,"y":3.136},{"x":39600,"y":3.093},{"x":36800,"y":3.148},
{"x":40200,"y":3.078},{"x":40800,"y":3.119},{"x":41500,"y":3.067},{"x":42100,"y":3.104},{"x":42700,"y":3.138},{"x":43400,"y":3.087},{"x":44000,"y":3.121},{"x":44600,"y":3.07},{"x":41300,"y":3.149},
{"x":45200,"y":3.108},{"x":45900,"y":3.074},{"x":46500,"y":3.132},{"x":47100,"y":3.091},{"x":47800,"y":3.069},{"x":48400,"y":3.115},{"x":49000,"y":3.084},{"x":49700,"y":3.14},{"x":46900,"y":3.154},
{"x":50200,"y":3.1},{"x":50800,"y":3.066},{"x":51500,"y":3.127},{"x":52100,"y":3.082},{"x":52700,"y":3.113},{"x":53300,"y":3.071},{"x":54000,"y":3.134},{"x":54600,"y":3.095},{"x":51900,"y":3.147},
{"x":55100,"y":3.076},{"x":55800,"y":3.117},{"x":56400,"y":3.068},{"x":57000,"y":3.102},{"x":57700,"y":3.139},{"x":58300,"y":3.088},{"x":58900,"y":3.124},{"x":59500,"y":3.072},{"x":56700,"y":3.151},
{"x":60100,"y":3.106},{"x":60800,"y":3.075},{"x":61400,"y":3.13},{"x":62000,"y":3.089},{"x":62700,"y":3.067},{"x":63300,"y":3.116},{"x":63900,"y":3.081},{"x":64500,"y":3.142},{"x":61900,"y":3.153},
{"x":65200,"y":3.098},{"x":65800,"y":3.069},{"x":66500,"y":3.125},{"x":67100,"y":3.079},{"x":67700,"y":3.11},{"x":68400,"y":3.074},{"x":69000,"y":3.137},{"x":69600,"y":3.092},{"x":66800,"y":3.149},
{"x":70200,"y":3.079},{"x":70800,"y":3.12},{"x":71500,"y":3.066},{"x":72100,"y":3.105},{"x":72700,"y":3.138},{"x":73400,"y":3.085},{"x":74000,"y":3.122},{"x":74600,"y":3.071},{"x":71300,"y":3.15},
{"x":75200,"y":3.109},{"x":75900,"y":3.073},{"x":76500,"y":3.131},{"x":77100,"y":3.09},{"x":77800,"y":3.068},{"x":78400,"y":3.114},{"x":79000,"y":3.083},{"x":79700,"y":3.141},{"x":76900,"y":3.152},
{"x":80200,"y":3.101},{"x":80800,"y":3.067},{"x":81500,"y":3.126},{"x":82100,"y":3.081},{"x":82700,"y":3.112},{"x":83300,"y":3.072},{"x":84000,"y":3.135},{"x":84600,"y":3.094},{"x":81900,"y":3.147},
{"x":85100,"y":3.077},{"x":85800,"y":3.118},{"x":86400,"y":3.069},{"x":87000,"y":3.103},{"x":87700,"y":3.138},{"x":88300,"y":3.087},{"x":88900,"y":3.123},{"x":89500,"y":3.07},{"x":86700,"y":3.15},
{"x":90100,"y":3.107},{"x":90800,"y":3.074},{"x":91400,"y":3.129},{"x":92000,"y":3.091},{"x":92700,"y":3.066},{"x":93300,"y":3.115},{"x":93900,"y":3.082},{"x":94500,"y":3.143},{"x":91900,"y":3.153},
{"x":95200,"y":3.096},{"x":95800,"y":3.068},{"x":96500,"y":3.124},{"x":97100,"y":3.08},{"x":97700,"y":3.111},{"x":98400,"y":3.073},{"x":99000,"y":3.136},{"x":99600,"y":3.093},{"x":96800,"y":3.148},
{"x":1000,"y":2.852},{"x":3600,"y":2.856},{"x":5800,"y":2.849},{"x":8200,"y":2.855},{"x":10300,"y":2.851},{"x":12700,"y":2.857},{"x":15100,"y":2.848},{"x":17900,"y":2.854},{"x":20100,"y":2.85},{"x":22700,"y":2.856},{"x":25200,"y":2.852},{"x":27800,"y":2.847},{"x":30100,"y":2.855},{"x":32400,"y":2.851},{"x":34900,"y":2.857},{"x":37400,"y":2.849},{"x":39800,"y":2.854},{"x":42100,"y":2.85},{"x":44800,"y":2.856},{"x":47200,"y":2.852},{"x":49600,"y":2.847},{"x":52100,"y":2.855},{"x":54700,"y":2.851},{"x":57000,"y":2.857},{"x":59400,"y":2.849},{"x":61900,"y":2.854},{"x":64300,"y":2.85},{"x":66900,"y":2.856},{"x":69200,"y":2.852},{"x":71800,"y":2.847},{"x":74100,"y":2.855},{"x":76500,"y":2.851},{"x":79100,"y":2.857},{"x":81500,"y":2.849},{"x":83900,"y":2.854},{"x":86200,"y":2.85},{"x":88900,"y":2.856},{"x":91300,"y":2.852},{"x":93800,"y":2.847},{"x":96100,"y":2.855},{"x":98700,"y":2.851},
{"x":14430,"y":3.654},{"x":22290,"y":3.651},{"x":30430,"y":3.61},{"x":9880,"y":3.48},{"x":1250,"y":3.452},{"x":4390,"y":3.447},{"x":28290,"y":3.487},{"x":29200,"y":3.436},{"x":12930,"y":3.429},{"x":15570,"y":3.377},{"x":24020,"y":3.386},{"x":20250,"y":3.357},{"x":1930,"y":3.351},{"x":1470,"y":3.328},{"x":2620,"y":3.328},{"x":13740,"y":3.322},{"x":11790,"y":3.314},{"x":12930,"y":3.305},{"x":9110,"y":3.299},{"x":8800,"y":3.296},{"x":27970,"y":3.313},{"x":31470,"y":3.31},{"x":29520,"y":3.295},{"x":33290,"y":3.286},{"x":22520,"y":3.303},{"x":21790,"y":3.282},{"x":11560,"y":3.28},{"x":7880,"y":3.267},{"x":4660,"y":3.272},{"x":1160,"y":3.26},{"x":19930,"y":3.272},{"x":23750,"y":3.27},{"x":26930,"y":3.268},{"x":28740,"y":3.27},{"x":31150,"y":3.267},{"x":16520,"y":3.263},{"x":14660,"y":3.251},{"x":22470,"y":3.256},{"x":200,"y":3.234},{"x":4200,"y":3.251},{"x":5340,"y":3.225},{"x":6700,"y":3.238},{"x":9750,"y":3.23},{"x":10570,"y":3.222},{"x":12610,"y":3.244},{"x":13160,"y":3.224},{"x":20790,"y":3.234},{"x":19560,"y":3.218},{"x":27380,"y":3.206},{"x":30200,"y":3.225},{"x":31520,"y":3.23},{"x":16200,"y":3.21},{"x":1160,"y":3.214},{"x":3750,"y":3.221},{"x":2290,"y":3.193},{"x":3650,"y":3.189},{"x":4200,"y":3.172},{"x":7840,"y":3.177},{"x":9430,"y":3.175},{"x":11700,"y":3.198},{"x":13740,"y":3.186},{"x":18980,"y":3.19},{"x":22840,"y":3.182},{"x":23650,"y":3.206},{"x":26010,"y":3.191},{"x":29650,"y":3.189},{"x":31020,"y":3.193},{"x":33060,"y":3.194},{"x":20790,"y":3.163},{"x":1470,"y":3.161},{"x":6030,"y":3.149},{"x":8750,"y":3.161},{"x":15570,"y":3.161},{"x":24430,"y":3.155},{"x":27840,"y":3.161},{"x":31470,"y":3.155},
{"x":53060,"y":3.597},{"x":38880,"y":3.539},{"x":48970,"y":3.47},{"x":53960,"y":3.458},{"x":34970,"y":3.421},{"x":37060,"y":3.405},{"x":38060,"y":3.409},{"x":57970,"y":3.43},{"x":60460,"y":3.399},{"x":45880,"y":3.382},{"x":50600,"y":3.391},{"x":57690,"y":3.344},{"x":53060,"y":3.341},{"x":52830,"y":3.328},{"x":41240,"y":3.322},{"x":42060,"y":3.336},{"x":43150,"y":3.308},{"x":43970,"y":3.293},{"x":44510,"y":3.282},{"x":45330,"y":3.256},{"x":53650,"y":3.283},{"x":63600,"y":3.336},{"x":64320,"y":3.336},{"x":62820,"y":3.32},{"x":66010,"y":3.31},{"x":33430,"y":3.287},{"x":35340,"y":3.285},{"x":36470,"y":3.282},{"x":38650,"y":3.285},{"x":38880,"y":3.259},{"x":41240,"y":3.285},{"x":35560,"y":3.236},{"x":37700,"y":3.236},{"x":41510,"y":3.239},{"x":42650,"y":3.247},{"x":50330,"y":3.249},{"x":48740,"y":3.222},{"x":51240,"y":3.213},{"x":56600,"y":3.244},{"x":56920,"y":3.232},{"x":58960,"y":3.222},{"x":61830,"y":3.267},{"x":63060,"y":3.278},{"x":64870,"y":3.267},{"x":66690,"y":3.226},{"x":38970,"y":3.205},{"x":39420,"y":3.193},{"x":43970,"y":3.213},{"x":44420,"y":3.201},{"x":42830,"y":3.218},{"x":42150,"y":3.201},{"x":54190,"y":3.21},{"x":53740,"y":3.196},{"x":56240,"y":3.207},{"x":57370,"y":3.196},{"x":58280,"y":3.198},{"x":61600,"y":3.196},{"x":63510,"y":3.201},{"x":64650,"y":3.21},{"x":34970,"y":3.184},{"x":36920,"y":3.175},{"x":47420,"y":3.198},{"x":47610,"y":3.178},{"x":51010,"y":3.184},{"x":50550,"y":3.164},{"x":52600,"y":3.175},{"x":59420,"y":3.172},{"x":64870,"y":3.175},
{"x":86600,"y":3.585},{"x":95770,"y":3.504},{"x":91820,"y":3.467},{"x":93280,"y":3.459},{"x":95090,"y":3.444},{"x":84180,"y":3.422},{"x":99280,"y":3.392},{"x":78640,"y":3.37},{"x":84770,"y":3.356},{"x":85450,"y":3.347},{"x":90000,"y":3.368},{"x":79870,"y":3.324},{"x":78970,"y":3.308},{"x":79650,"y":3.297},{"x":86910,"y":3.313},{"x":90460,"y":3.31},{"x":97140,"y":3.305},{"x":98870,"y":3.307},{"x":70870,"y":3.292},{"x":73420,"y":3.278},{"x":75100,"y":3.287},{"x":76690,"y":3.301},{"x":77140,"y":3.295},{"x":77600,"y":3.26},{"x":74640,"y":3.251},{"x":75910,"y":3.232},{"x":79320,"y":3.242},{"x":85550,"y":3.282},{"x":85690,"y":3.266},{"x":87460,"y":3.251},{"x":89410,"y":3.253},{"x":90090,"y":3.244},{"x":91720,"y":3.264},{"x":92000,"y":3.244},{"x":93730,"y":3.276},{"x":93280,"y":3.253},{"x":96320,"y":3.252},{"x":99050,"y":3.248},{"x":66830,"y":3.226},{"x":68510,"y":3.23},{"x":68640,"y":3.216},{"x":70550,"y":3.232},{"x":71920,"y":3.218},{"x":72460,"y":3.226},{"x":73650,"y":3.196},{"x":76010,"y":3.232},{"x":81600,"y":3.225},{"x":83050,"y":3.21},{"x":84320,"y":3.213},{"x":89640,"y":3.21},{"x":95090,"y":3.225},{"x":94280,"y":3.201},{"x":93730,"y":3.19},{"x":92820,"y":3.19},{"x":97510,"y":3.19},{"x":98050,"y":3.193},{"x":70920,"y":3.193},{"x":68280,"y":3.201},{"x":71240,"y":3.176},{"x":74880,"y":3.184},{"x":77240,"y":3.176},{"x":79650,"y":3.184},{"x":80000,"y":3.196},{"x":81690,"y":3.172},{"x":83050,"y":3.155},{"x":88050,"y":3.193},{"x":87820,"y":3.184},{"x":95540,"y":3.164},{"x":67010,"y":3.175},{"x":69640,"y":3.155},{"x":85550,"y":3.155},{"x":86910,"y":3.161},{"x":91450,"y":3.164},
{"x":1700,"y":2.824},{"x":3300,"y":2.837},{"x":9070,"y":2.793},{"x":16250,"y":2.839},{"x":17380,"y":2.808},{"x":19200,"y":2.814},{"x":21380,"y":2.793},{"x":22600,"y":2.793},{"x":23070,"y":2.831},{"x":23520,"y":2.833},{"x":25560,"y":2.821},{"x":26970,"y":2.822},{"x":29650,"y":2.793},{"x":30330,"y":2.782},{"x":32750,"y":2.802},{"x":31020,"y":2.848},{"x":33060,"y":2.802},{"x":36240,"y":2.784},{"x":38610,"y":2.824},{"x":41920,"y":2.782},{"x":42600,"y":2.833},{"x":44650,"y":2.805},{"x":45560,"y":2.799},{"x":46380,"y":2.811},{"x":48060,"y":2.799},{"x":49280,"y":2.782},{"x":50010,"y":2.799},{"x":50240,"y":2.833},{"x":55320,"y":2.799},{"x":56000,"y":2.796},{"x":57510,"y":2.822},{"x":57510,"y":2.784},{"x":59880,"y":2.824},{"x":61010,"y":2.793},{"x":61780,"y":2.833},{"x":67460,"y":2.828},{"x":73730,"y":2.799},{"x":75870,"y":2.773},{"x":81010,"y":2.808},{"x":81150,"y":2.782},{"x":87360,"y":2.81},{"x":88180,"y":2.82},{"x":91720,"y":2.816},{"x":97510,"y":2.778},{"x":99410,"y":2.801},{"x":86460,"y":2.848}
]},
"mark":{"type":"circle","size":70,"color":"#cccccc","opacity":1,"strokeWidth":0},
"encoding":{
"x":{"field":"x","type":"quantitative","scale":{"domain":[0,100000],"nice":false,"zero":false},"axis":{"values":[0,25000,50000,75000,100000],"format":",d","tickSize":-7,"labelPadding":14,"labelFlush":false,"labelOverlap":false,"title":"Iteration","titlePadding":1}},
"y":{"field":"y","type":"quantitative","scale":{"domain":[2,4],"nice":false,"zero":false},"axis":{"values":[2,2.2,2.4,2.6,2.8,3,3.2,3.4,3.6,3.8,4],"format":".1~f","tickSize":-7,"labelPadding":5,"labelFlush":false,"labelOverlap":false,"title":null}}
}},
{"data":{"values":[{"level":3,"start":0,"end":100000}]},
"mark":{"type":"rule","color":"black","strokeWidth":3},
"encoding":{
"x":{"field":"start","type":"quantitative","axis":{"orient":"top","labels":false,"tickSize":-7,"values":[0,25000,50000,75000,100000],"title":null}},
"x2":{"field":"end"},
"y":{"field":"level","type":"quantitative","axis":{"orient":"right","labels":false,"tickSize":-7,"values":[2,2.2,2.4,2.6,2.8,3,3.2,3.4,3.6,3.8,4],"title":null}}
}}
],
"resolve":{"axis":{"x":"independent","y":"independent"}}
}
